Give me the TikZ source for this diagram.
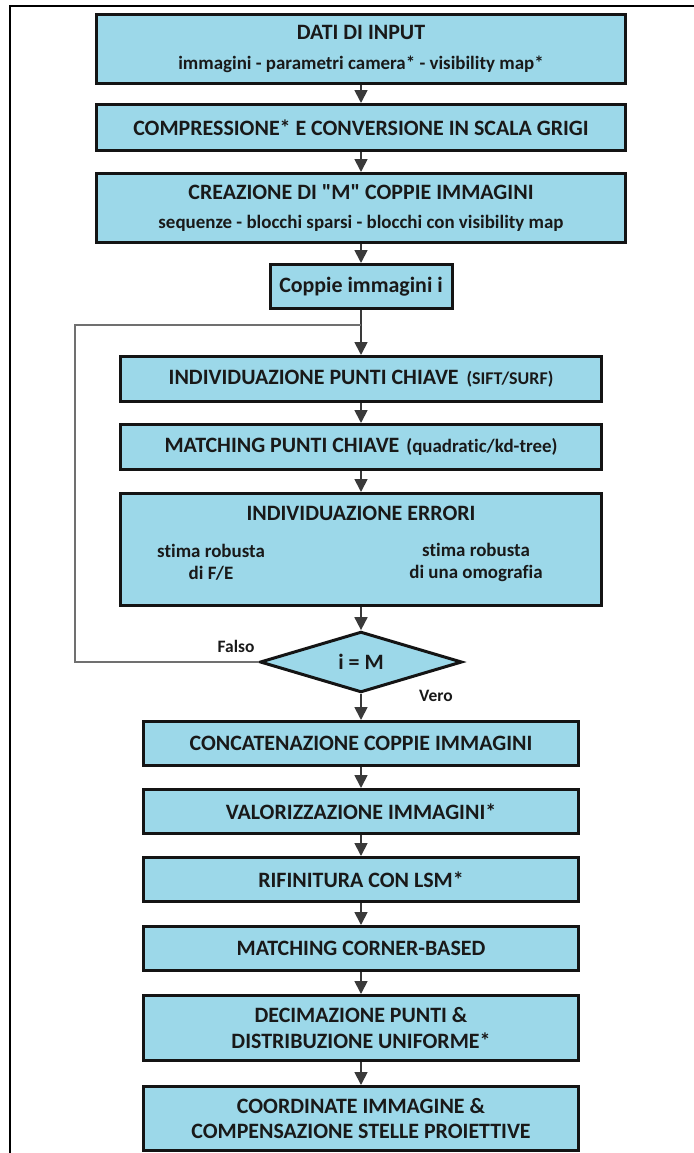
\documentclass[tikz,border=0pt]{standalone}
\usepackage{fontspec}
\setmainfont{Carlito}[Ligatures={NoCommon}]
\usetikzlibrary{positioning,shapes.geometric,arrows.meta}

\definecolor{boxblue}{HTML}{9CD8E9}
\definecolor{linkgray}{HTML}{3A3A3A}
\definecolor{loopgray}{HTML}{707070}
\newcommand\boxtitlefont{\fontsize{22}{26}\selectfont\bfseries}
\newcommand\boxnotefont{\fontsize{19}{22}\selectfont\bfseries}

\begin{document}
\begin{tikzpicture}[x=1bp,y=-1bp, line join=miter,
	flowbox/.style={draw=black!92, fill=boxblue, line width=3bp, inner sep=0pt,
		align=center, font=\boxtitlefont, text=black!90},
	widebox/.style={flowbox, minimum width=528bp},
	midbox/.style={flowbox, minimum width=481bp},
	narrowbox/.style={flowbox, minimum width=434bp},
	link/.style={draw=linkgray, line width=1.8bp, -{Triangle[length=13bp,width=13bp]}},
	loopline/.style={draw=loopgray, line width=1.3bp},
	note/.style={font=\boxnotefont, text=black!90, align=center, inner sep=0pt}]
	\useasboundingbox (0,0) rectangle (694,1153);
	
	% ===== cornice =====
	\draw[line width=2bp, black] (10,1153) -- (10,6) -- (694,6);
	
	% ===== blocchi iniziali =====
	\node[widebox, minimum height=69bp] (input) at (361,49)
		{DATI DI INPUT\\[4pt]{\boxnotefont immagini - parametri camera* - visibility map*}};
	\node[widebox, minimum height=46bp] (gray) at (361,127.5)
		{COMPRESSIONE* E CONVERSIONE IN SCALA GRIGI};
	\node[widebox, minimum height=69bp] (pairs) at (361,208)
		{CREAZIONE DI \textquotedbl M\textquotedbl\ COPPIE IMMAGINI\\[4pt]{\boxnotefont sequenze - blocchi sparsi - blocchi con visibility map}};
	\node[flowbox, minimum width=182bp, minimum height=44bp] (pairi) at (361,286.5)
		{Coppie immagini i};
	
	% ===== ciclo sulle coppie =====
	\node[midbox, minimum height=45bp] (keyp) at (361,379)
		{INDIVIDUAZIONE PUNTI CHIAVE\hspace{8pt}{\fontsize{18}{22}\selectfont(SIFT/SURF)}};
	\node[midbox, minimum height=45bp] (match) at (361,447)
		{MATCHING PUNTI CHIAVE\hspace{7pt}{\boxnotefont(quadratic/kd-tree)}};
	\node[midbox, minimum height=112bp] (errors) at (361,549.5) {};
	\node[font=\boxtitlefont, text=black!90, inner sep=0pt] (errtitle) at (361,513) {INDIVIDUAZIONE ERRORI};
	\node[note] (estfe) at (211,562) {stima robusta\\di F/E};
	\node[note] (esthom) at (476,562) {stima robusta\\di una omografia};
	
	\node[diamond, draw=black!92, fill=boxblue, line width=3bp, inner sep=0pt,
		minimum width=202bp, minimum height=60bp, font=\boxtitlefont, text=black!90] (test) at (361,662) {i = M};
	\node[font=\fontsize{17.5}{20}\selectfont\bfseries, text=black!90] (falso) at (236,646) {Falso};
	\node[font=\fontsize{17.5}{20}\selectfont\bfseries, text=black!90] (vero) at (436,696) {Vero};
	
	% ===== blocchi finali =====
	\node[narrowbox, minimum height=44bp] (concat) at (361,743.5) {CONCATENAZIONE COPPIE IMMAGINI};
	\node[narrowbox, minimum height=44bp] (valor) at (361,811.5) {VALORIZZAZIONE IMMAGINI*};
	\node[narrowbox, minimum height=44bp] (lsm) at (361,879.5) {RIFINITURA CON LSM*};
	\node[narrowbox, minimum height=44bp] (corner) at (361,948.5) {MATCHING CORNER-BASED};
	\node[narrowbox, minimum height=65bp] (decim) at (361,1028)
		{DECIMAZIONE PUNTI \&\\DISTRIBUZIONE UNIFORME*};
	\node[narrowbox, minimum height=64bp] (coord) at (361,1118.5)
		{COORDINATE IMMAGINE \&\\COMPENSAZIONE STELLE PROIETTIVE};
	
	% ===== frecce =====
	\draw[link] (input) -- (gray);
	\draw[link] (gray) -- (pairs);
	\draw[link] (pairs) -- (pairi);
	\draw[link] (pairi) -- (keyp);
	\draw[link] (keyp) -- (match);
	\draw[link] (match) -- (errors);
	\draw[link] (errors) -- (test);
	\draw[link] (test) -- (concat);
	\draw[link] (concat) -- (valor);
	\draw[link] (valor) -- (lsm);
	\draw[link] (lsm) -- (corner);
	\draw[link] (corner) -- (decim);
	\draw[link] (decim) -- (coord);
	
	% ritorno "Falso"
	\coordinate (loopjoin) at (361,325);
	\coordinate (loopcorner) at (75,325);
	\draw[loopline] (test.west) -| (loopcorner) -- (loopjoin);
\end{tikzpicture}
\end{document}
